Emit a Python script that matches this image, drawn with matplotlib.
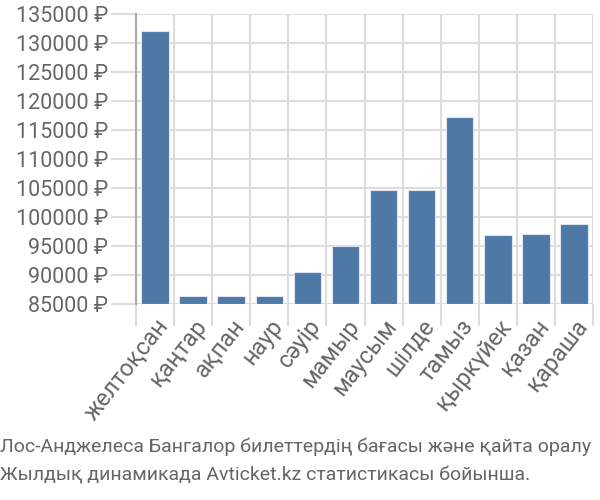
import matplotlib.pyplot as plt

months = ["желтоқсан", "қаңтар", "ақпан", "наур", "сәуір", "мамыр",
          "маусым", "шілде", "тамыз", "қыркүйек", "қазан", "қараша"]
prices = [132000, 86300, 86300, 86300, 90500, 95000,
          104600, 104600, 117200, 96900, 97100, 98700]
yticks = list(range(85000, 135001, 5000))
title_lines = ["Лос-Анджелеса Бангалор билеттердің бағасы және қайта оралу",
               "Жылдық динамикада Avticket.kz статистикасы бойынша."]

plt.rcParams['font.family'] = ['Roboto', 'DejaVu Sans']
grey = "#666666"

fig = plt.figure(figsize=(6, 5), dpi=100)
ax = fig.add_axes([136 / 600, 1 - 303.7 / 500, 457 / 600, 289.7 / 500])

x = range(len(months))
ax.bar(x, [p - 85000 for p in prices], bottom=85000, width=0.72,
       color="#4e79a7", edgecolor="#dde6f0", linewidth=0.8, zorder=3)

ax.set_xlim(-0.5, len(months) - 0.5)
ax.set_ylim(85000, 135000)
ax.set_yticks(yticks)
ax.set_yticklabels([f"{v} ₽" for v in yticks], fontsize=15.5, color=grey)

# vertical grid lines sit between the bars
ax.set_xticks([i - 0.5 for i in range(len(months) + 1)], minor=False)
ax.set_xticklabels([])
ax.set_xticks(list(x), minor=True)
ax.set_xticklabels(months, minor=True, rotation=52, ha="right",
                   rotation_mode="anchor", fontsize=17, color=grey)
ax.tick_params(axis="x", which="minor", length=0, pad=8)
ax.tick_params(axis="x", which="major", length=16, color="#dddddd", width=1.5)
ax.tick_params(axis="y", length=18, color="#dddddd", width=1.5, pad=2)

ax.grid(True, which="major", color="#dddddd", linewidth=1.5, zorder=0)
for s in ["top", "right", "bottom"]:
    ax.spines[s].set_visible(False)
ax.spines["left"].set_color("#aaaaaa")
ax.spines["left"].set_linewidth(1.5)
ax.axhline(85000, color="#dddddd", linewidth=1.5, zorder=1)

fig.text(0.0, 1 - 447 / 500, title_lines[0], fontsize=14, color=grey, va="center")
fig.text(0.0, 1 - 475 / 500, title_lines[1], fontsize=14, color=grey, va="center")

fig.savefig("out.png", dpi=100)
